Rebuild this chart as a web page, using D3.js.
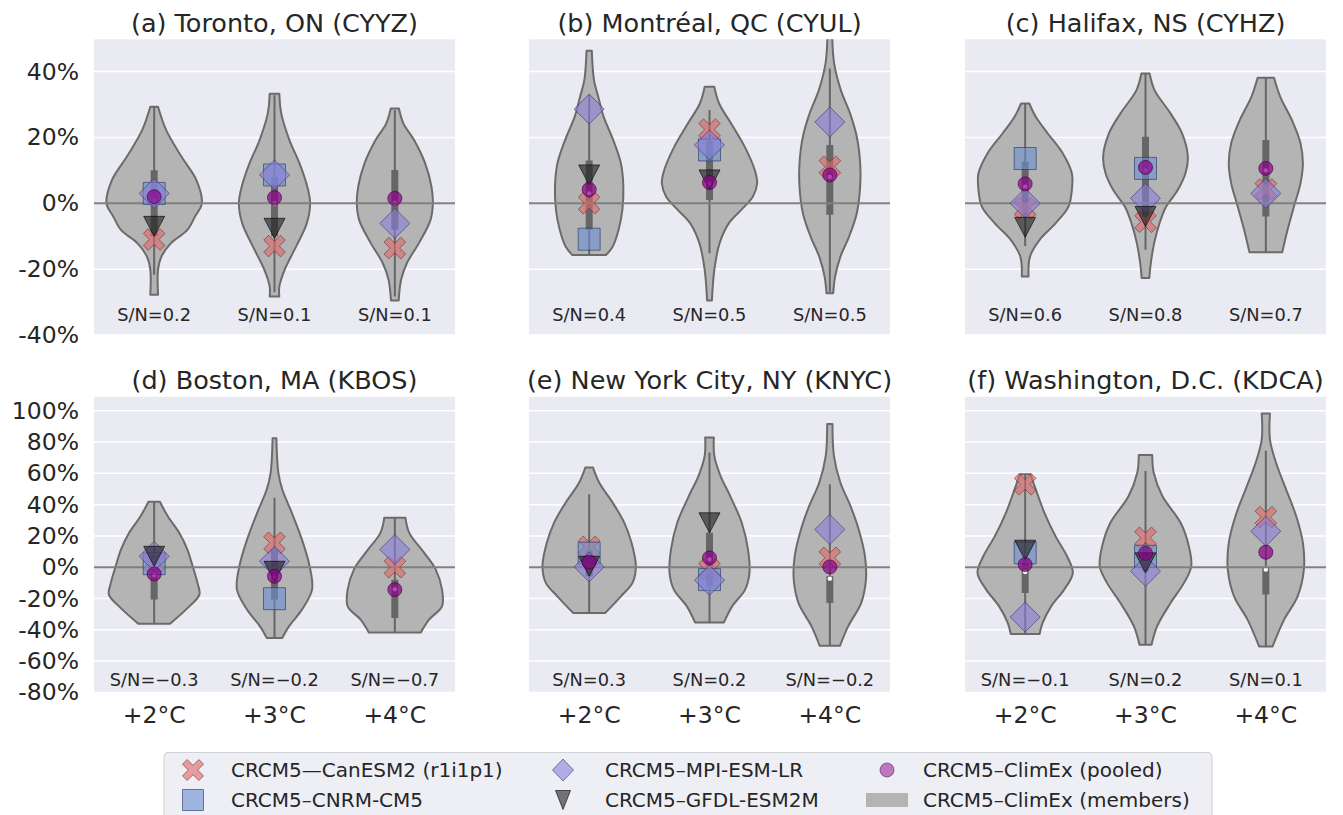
<!DOCTYPE html>
<html>
<head>
<meta charset="utf-8">
<script src="https://cdn.jsdelivr.net/npm/d3@7"></script>
<style>
  html, body { margin: 0; padding: 0; background: #ffffff; }
  svg { display: block; font-family: "DejaVu Sans", "Liberation Sans", sans-serif; }
</style>
</head>
<body>
<svg id="chart" width="1343" height="815"></svg>
<script>
// ---------------------------------------------------------------------------
// Data: change in precipitation extremes (%) for six stations at three
// global warming levels, CRCM5 driven by several GCMs and the ClimEx ensemble.
// ---------------------------------------------------------------------------
const stations = [
  "(a) Toronto, ON (CYYZ)",
  "(b) Montréal, QC (CYUL)",
  "(c) Halifax, NS (CYHZ)",
  "(d) Boston, MA (KBOS)",
  "(e) New York City, NY (KNYC)",
  "(f) Washington, D.C. (KDCA)"
];
const warmingLevels = ["+2°C", "+3°C", "+4°C"];

// signal-to-noise ratio of the ClimEx members
const snRatios = [
  [0.2, 0.1, 0.1],
  [0.4, 0.5, 0.5],
  [0.6, 0.8, 0.7],
  [-0.3, -0.2, -0.7],
  [0.3, 0.2, -0.2],
  [-0.1, 0.2, 0.1]
];

// single-run simulations (null: warming level not reached)
const canesm2 = [
  [-11, -13, -13.6],
  [0, 22.4, 11.1],
  [-1.5, -5.6, 4.2],
  [3, 15.6, 0],
  [13, -1.5, 6],
  [53, 18.8, 32]
];
const cnrmCm5 = [
  [3, 8.6, null],
  [-10.9, 16.2, null],
  [13.6, 10.6, null],
  [2.3, -20.1, null],
  [9, -7.9, null],
  [9.2, 7, null]
];
const mpiEsmLr = [
  [3, 8.6, -6.1],
  [28.6, 17.7, 24.7],
  [0, 1.5, 3],
  [7, 3.8, 11.3],
  [0.2, -8.3, 24.1],
  [-31.8, -2.6, 23]
];
const gfdlEsm2m = [
  [-7, -7.6, null],
  [8.6, 7.1, null],
  [-7.3, -4, null],
  [7, -2.6, null],
  [0.6, 28.4, null],
  [10.9, 2.8, null]
];
const climexPooled = [
  [2, 1.7, 1.5],
  [4.2, 6.3, 8.6],
  [5.9, 10.9, 10.6],
  [-4.3, -5.8, -14.3],
  [3.2, 6, 0.2],
  [1.7, 8.8, 9.6]
];

// ClimEx member distribution: [change %, relative density], from top to bottom
const memberDensity = [
  [ // Toronto
    [[29.3,0.08],[22.2,0.25],[14.1,0.57],[7.1,0.875],[0,0.99],[-4,0.85],[-8.1,0.69],[-12.1,0.35],[-16.2,0.15],[-20.2,0.08],[-27.8,0.08]],
    [[33.3,0.1],[27.3,0.14],[19.2,0.31],[12.1,0.52],[5.1,0.68],[0,0.74],[-6.1,0.67],[-13.1,0.45],[-20.2,0.21],[-25.3,0.1],[-28.3,0.1]],
    [[28.8,0.085],[24.2,0.18],[19.2,0.4],[12.1,0.63],[5.1,0.76],[0,0.79],[-5.1,0.74],[-12.1,0.5],[-18.2,0.25],[-23.2,0.13],[-29.5,0.08]]
  ],
  [ // Montréal
    [[46.3,0.055],[37.4,0.1],[32.3,0.19],[26.3,0.3],[19.2,0.5],[12.1,0.66],[5.1,0.71],[-2,0.69],[-8.1,0.61],[-13.1,0.49],[-15.7,0.35]],
    [[35.4,0.1],[30.3,0.2],[24.2,0.45],[17.2,0.73],[10.1,0.94],[6.1,0.99],[2,0.9],[-2,0.66],[-6.1,0.4],[-12.1,0.21],[-20.2,0.1],[-29.5,0.05]],
    [[50.5,0.05],[42.4,0.09],[34.3,0.23],[27.3,0.42],[20.2,0.56],[12.1,0.63],[5.1,0.63],[-3,0.56],[-10.1,0.4],[-16.2,0.22],[-22.2,0.11],[-27.3,0.07]]
  ],
  [ // Halifax
    [[30.3,0.085],[26.3,0.22],[21.2,0.47],[15.2,0.78],[9.1,0.97],[4,0.97],[-1,0.9],[-6.1,0.63],[-11.1,0.3],[-16.2,0.1],[-22.2,0.07]],
    [[39.4,0.085],[34.3,0.19],[27.3,0.52],[21.2,0.76],[14.1,0.88],[9.1,0.83],[4,0.67],[-1,0.43],[-6.1,0.29],[-12.1,0.18],[-18.2,0.11],[-22.7,0.08]],
    [[38.1,0.17],[32.3,0.3],[25.3,0.54],[18.2,0.72],[12.1,0.77],[6.1,0.72],[-0.7,0.59],[-8.1,0.45],[-14.9,0.34]]
  ],
  [ // Boston
    [[41.9,0.12],[32.7,0.28],[22,0.52],[11.3,0.69],[0.6,0.8],[-10,0.9],[-17.5,0.94],[-25,0.73],[-36.1,0.33]],
    [[82.5,0.04],[60.5,0.08],[49.8,0.16],[34.8,0.36],[17.7,0.57],[0.6,0.73],[-14.3,0.78],[-27.1,0.57],[-37.8,0.3],[-45.3,0.16]],
    [[31.6,0.22],[22,0.3],[9.2,0.61],[-1.5,0.85],[-14.3,0.98],[-25,0.98],[-33.5,0.71],[-41.7,0.54]]
  ],
  [ // New York City
    [[63.7,0.08],[54,0.21],[41.2,0.49],[28.4,0.73],[15.6,0.88],[0.6,0.97],[-10,0.9],[-18.6,0.66],[-29.3,0.33]],
    [[82.9,0.09],[71.2,0.1],[58.3,0.23],[45.5,0.43],[28.4,0.67],[11.3,0.8],[-3.6,0.83],[-14.3,0.74],[-25,0.47],[-35.3,0.3]],
    [[91.5,0.055],[71.2,0.085],[54,0.22],[39.1,0.43],[24.1,0.6],[7,0.73],[-7.9,0.75],[-22.9,0.65],[-37.8,0.38],[-50.2,0.21]]
  ],
  [ // Washington
    [[59.4,0.11],[49.8,0.22],[34.8,0.4],[19.9,0.63],[7,0.87],[-3.6,0.99],[-14.3,0.81],[-25,0.54],[-35.7,0.36],[-42.7,0.3]],
    [[71.8,0.14],[60.5,0.17],[45.5,0.35],[28.4,0.73],[13.5,0.9],[0.6,0.95],[-10,0.8],[-22.9,0.52],[-37.8,0.24],[-49.6,0.125]],
    [[98.3,0.085],[81.8,0.085],[66.9,0.21],[49.8,0.42],[32.7,0.63],[15.6,0.77],[-1.5,0.79],[-18.6,0.66],[-33.5,0.38],[-50.6,0.14]]
  ]
];

// member box summary: [lower whisker, q1, median, q3, upper whisker]
const memberBox = [
  [[-21.7,-10,1,10,29.3],[-27,-10,0,8,32.8],[-28.3,-8,0,10.1,28.3]],
  [[-15.7,-8,3,13,33],[-15.2,1,6,19,28.3],[-27,-3.5,8,17.7,40.9]],
  [[-13,-3.5,5,12.6,30.3],[-14.1,-4,10,20.2,39.4],[-14.9,-4,10,19.2,38.1]],
  [[-36,-20.7,-5,7,41.9],[-45.3,-20.7,-6,11.3,44.4],[-41.7,-32.5,-14,-8,31.6]],
  [[-29.3,-5.8,2,11,46.6],[-35.3,-12,5,22,73.3],[-50.2,-22.9,-7.3,-5.8,53]],
  [[-42.7,-16.5,-3,5,59.4],[-49.6,-2.6,5,13.5,61.5],[-50.6,-17.5,-1.5,-0.5,74.4]]
];

// axis limits and ticks for each row
const yDomainTop = [-40, 49.8];
const yDomainBottom = [-80, 109];
const yTicksTop = [-40, -20, 0, 20, 40];
const yTicksBottom = [-80, -60, -40, -20, 0, 20, 40, 60, 80, 100];

const seriesNames = [
  "CRCM5\u2014CanESM2 (r1i1p1)",
  "CRCM5\u2013CNRM-CM5",
  "CRCM5\u2013MPI-ESM-LR",
  "CRCM5\u2013GFDL-ESM2M",
  "CRCM5\u2013ClimEx (pooled)",
  "CRCM5\u2013ClimEx (members)"
];

// ---------------------------------------------------------------------------
// Layout and styles
// ---------------------------------------------------------------------------
const svg = d3.select("#chart");
const colX = [94, 529, 965];
const panelW = 361;
const rowY = [39.3, 396.7];
const panelH = 295.7;
const ink = "#262626";

const markerStyle = {
  can:    { fill: "#e06666", stroke: "#7a2a2a", op: 0.6, legendOp: 0.6 },
  cnrm:   { fill: "#6a8fd0", stroke: "#1f3260", op: 0.6, legendOp: 0.6 },
  mpi:    { fill: "#8a7fd8", stroke: "#3a3270", op: 0.6, legendOp: 0.6 },
  gfdl:   { fill: "#222222", stroke: "#000000", op: 0.62, legendOp: 0.6 },
  pooled: { fill: "#8b008b", stroke: "#4a004a", op: 0.7, legendOp: 0.5 }
};

// marker outlines, centred on (0,0)
function xShape(half, t) {
  const L = half * Math.SQRT2 - t;
  const p = [[-t,-L],[t,-L],[t,-t],[L,-t],[L,t],[t,t],[t,L],[-t,L],[-t,t],[-L,t],[-L,-t],[-t,-t]];
  const c = Math.SQRT1_2;
  return "M" + p.map(([a, b]) => [(a - b) * c, (a + b) * c].map(v => v.toFixed(2)).join(",")).join("L") + "Z";
}
function squareShape(s) { const h = s / 2; return `M${-h},${-h}H${h}V${h}H${-h}Z`; }
function diamondShape(hw, hh) { return `M0,${-hh}L${hw},0L0,${hh}L${-hw},0Z`; }
function triDownShape(w, h) { return `M${-w/2},${-h/2}L${w/2},${-h/2}L0,${h/2}Z`; }
function circleShape(r) { return `M${-r},0A${r},${r} 0 1,0 ${r},0A${r},${r} 0 1,0 ${-r},0Z`; }

const plotShapes = {
  can: xShape(10.8, 3.4),
  cnrm: squareShape(22),
  mpi: diamondShape(15, 15),
  gfdl: triDownShape(21, 20),
  pooled: circleShape(7)
};
const legendShapes = {
  can: xShape(10.5, 3.3),
  cnrm: squareShape(21),
  mpi: diamondShape(10.5, 11),
  gfdl: triDownShape(15, 19),
  pooled: circleShape(7)
};
const seriesValues = { can: canesm2, cnrm: cnrmCm5, mpi: mpiEsmLr, gfdl: gfdlEsm2m, pooled: climexPooled };
const seriesKeys = ["can", "cnrm", "mpi", "gfdl", "pooled"];

const defs = svg.append("defs");

stations.forEach((title, si) => {
  const row = Math.floor(si / 3), col = si % 3;
  const x0 = colX[col], y0 = rowY[row];
  const y = d3.scaleLinear()
    .domain(row === 0 ? yDomainTop : yDomainBottom)
    .range([y0 + panelH, y0]);
  const yTicks = row === 0 ? yTicksTop : yTicksBottom;
  const x = d3.scaleBand().domain(warmingLevels).range([x0, x0 + panelW]);
  const halfW = d3.scaleLinear().domain([0, 1]).range([0, x.bandwidth() * 0.4]);

  const g = svg.append("g");
  const clipId = "clip" + si;
  defs.append("clipPath").attr("id", clipId)
    .append("rect").attr("x", x0).attr("y", y0).attr("width", panelW).attr("height", panelH);

  // background and grid
  g.append("rect").attr("x", x0).attr("y", y0).attr("width", panelW).attr("height", panelH)
    .attr("fill", "#eaeaf2");
  g.append("g").selectAll("line").data(yTicks).join("line")
    .attr("x1", x0).attr("x2", x0 + panelW)
    .attr("y1", d => y(d)).attr("y2", d => y(d))
    .attr("stroke", "#ffffff").attr("stroke-width", 1.5);

  const body = g.append("g").attr("clip-path", `url(#${clipId})`);

  // violins of the ClimEx members
  warmingLevels.forEach((lvl, li) => {
    const cx = x(lvl) + x.bandwidth() / 2;
    const area = d3.area()
      .curve(d3.curveCatmullRom.alpha(0.5))
      .y(d => y(d[0]))
      .x0(d => cx - halfW(d[1]))
      .x1(d => cx + halfW(d[1]));
    body.append("path")
      .attr("d", area(memberDensity[si][li]))
      .attr("fill", "#b4b4b4")
      .attr("stroke", "#6b6b6b")
      .attr("stroke-width", 2)
      .attr("stroke-linejoin", "round");

    const [wLo, q1, med, q3, wHi] = memberBox[si][li];
    body.append("line")
      .attr("x1", cx).attr("x2", cx).attr("y1", y(wLo)).attr("y2", y(wHi))
      .attr("stroke", "#666666").attr("stroke-width", 2);
    body.append("line")
      .attr("x1", cx).attr("x2", cx).attr("y1", y(q1)).attr("y2", y(q3))
      .attr("stroke", "#666666").attr("stroke-width", 7);
    body.append("circle")
      .attr("cx", cx).attr("cy", y(med)).attr("r", 2.2)
      .attr("fill", "#ffffff");
  });

  // zero reference line
  body.append("line")
    .attr("x1", x0).attr("x2", x0 + panelW).attr("y1", y(0)).attr("y2", y(0))
    .attr("stroke", "#808080").attr("stroke-width", 2);

  // single simulations and pooled ensemble
  seriesKeys.forEach(key => {
    const st = markerStyle[key];
    warmingLevels.forEach((lvl, li) => {
      const v = seriesValues[key][si][li];
      if (v === null) return;
      const cx = x(lvl) + x.bandwidth() / 2;
      body.append("path")
        .attr("d", plotShapes[key])
        .attr("transform", `translate(${cx},${y(v)})`)
        .attr("fill", st.fill).attr("fill-opacity", st.op)
        .attr("stroke", st.stroke).attr("stroke-opacity", st.op).attr("stroke-width", 1);
    });
  });

  // signal-to-noise labels
  const snY = row === 0 ? 315 : 680;
  g.append("g").selectAll("text").data(warmingLevels).join("text")
    .attr("x", d => x(d) + x.bandwidth() / 2)
    .attr("y", snY)
    .attr("dy", "0.35em")
    .attr("text-anchor", "middle")
    .attr("font-size", 17.8)
    .attr("fill", ink)
    .text((d, li) => {
      const v = snRatios[si][li];
      return "S/N=" + (v < 0 ? "\u2212" : "") + Math.abs(v).toFixed(1);
    });

  // title
  g.append("text")
    .attr("x", x0 + panelW / 2).attr("y", y0 - 7.5)
    .attr("text-anchor", "middle")
    .attr("font-size", 25.5)
    .attr("fill", ink)
    .text(title);

  // y axis labels (shared, left column only)
  if (col === 0) {
    const axis = d3.axisLeft(y).tickValues(yTicks).tickSize(0).tickPadding(0)
      .tickFormat(d => d + "%");
    const ag = g.append("g").attr("transform", `translate(${x0 - 15},0)`).call(axis);
    ag.select(".domain").remove();
    ag.selectAll("text").attr("font-size", 23.5).attr("fill", ink)
      .attr("font-family", "DejaVu Sans, sans-serif");
  }

  // x axis labels (bottom row only)
  if (row === 1) {
    const axis = d3.axisBottom(x).tickSize(0).tickPadding(0);
    const ag = g.append("g").attr("transform", `translate(0,${y0 + panelH + 14})`).call(axis);
    ag.select(".domain").remove();
    ag.selectAll("text").attr("font-size", 23.5).attr("fill", ink)
      .attr("font-family", "DejaVu Sans, sans-serif");
  }
});

// ---------------------------------------------------------------------------
// Legend
// ---------------------------------------------------------------------------
const legend = svg.append("g");
legend.append("rect")
  .attr("x", 164).attr("y", 752.5).attr("width", 1048).attr("height", 70)
  .attr("rx", 4)
  .attr("fill", "#eaeaf2").attr("fill-opacity", 0.8)
  .attr("stroke", "#cfcfd6").attr("stroke-width", 1);

const legendCols = [
  { mx: 193, tx: 231 },
  { mx: 563, tx: 605 },
  { mx: 887, tx: 923 }
];
const legendRows = [770, 800];
const legendItems = [
  { key: "can", col: 0, row: 0 },
  { key: "cnrm", col: 0, row: 1 },
  { key: "mpi", col: 1, row: 0 },
  { key: "gfdl", col: 1, row: 1 },
  { key: "pooled", col: 2, row: 0 },
  { key: "members", col: 2, row: 1 }
];
legendItems.forEach((it, i) => {
  const cx = legendCols[it.col].mx, cy = legendRows[it.row];
  if (it.key === "members") {
    legend.append("rect")
      .attr("x", cx - 21).attr("y", cy - 7).attr("width", 42).attr("height", 14)
      .attr("fill", "#b4b4b4");
  } else {
    const st = markerStyle[it.key];
    legend.append("path")
      .attr("d", legendShapes[it.key])
      .attr("transform", `translate(${cx},${cy})`)
      .attr("fill", st.fill).attr("fill-opacity", st.legendOp)
      .attr("stroke", st.stroke).attr("stroke-opacity", st.legendOp).attr("stroke-width", 1);
  }
  legend.append("text")
    .attr("x", legendCols[it.col].tx).attr("y", cy)
    .attr("dy", "0.35em")
    .attr("font-size", 20)
    .attr("fill", ink)
    .text(seriesNames[i]);
});
</script>
</body>
</html>
